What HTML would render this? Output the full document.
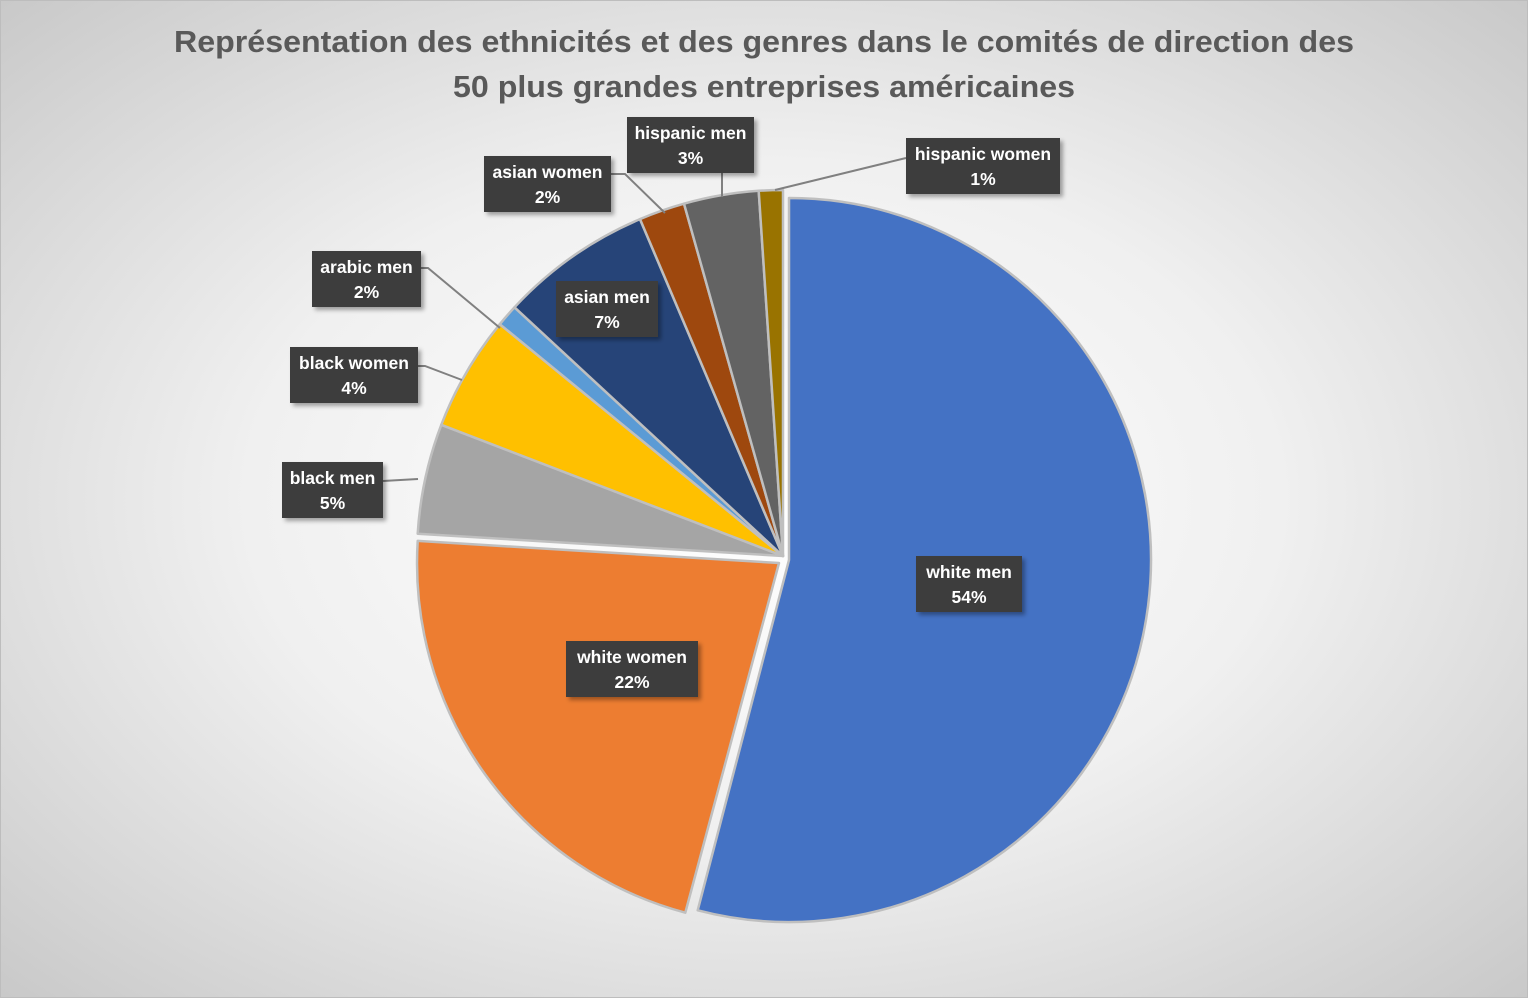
<!DOCTYPE html>
<html><head><meta charset="utf-8"><style>
html,body{margin:0;padding:0;}
body{width:1528px;height:998px;overflow:hidden;}
</style></head><body>
<svg width="1528" height="998" viewBox="0 0 1528 998" xmlns="http://www.w3.org/2000/svg" font-family="Liberation Sans, sans-serif">
<defs>
<radialGradient id="bg" cx="50%" cy="50%" r="75%">
<stop offset="0" stop-color="#ffffff"/><stop offset="0.45" stop-color="#f0f0f0"/><stop offset="1" stop-color="#c4c4c4"/>
</radialGradient>
<filter id="sh" x="-10%" y="-10%" width="130%" height="130%"><feDropShadow dx="3" dy="3" stdDeviation="2" flood-color="#000" flood-opacity="0.35"/></filter>
</defs>
<rect x="0" y="0" width="1528" height="998" fill="url(#bg)" stroke="#bdbdbd" stroke-width="2"/>
<g font-weight="bold" fill="#595959" font-size="31" text-anchor="middle">
<text x="764" y="52" textLength="1180" lengthAdjust="spacingAndGlyphs">Représentation des ethnicités et des genres dans le comités de direction des</text>
<text x="764" y="97" textLength="622" lengthAdjust="spacingAndGlyphs">50 plus grandes entreprises américaines</text>
</g>
<g stroke="#bfbfbf" stroke-width="2.5" stroke-linejoin="round">
<path d="M789,560 L789,198 A362,362 0 1 1 697.7,910.3 Z" fill="#4472c4"/>
<path d="M779,563 L685.3,912.7 A362,362 0 0 1 417.7,540.9 Z" fill="#ed7d31"/>
<path d="M783,556 L417.7,533.7 A366,366 0 0 1 441.3,424.8 Z" fill="#a5a5a5"/>
<path d="M783,556 L441.3,424.8 A366,366 0 0 1 499.8,324.2 Z" fill="#ffc000"/>
<path d="M783,556 L499.8,324.2 A366,366 0 0 1 514.5,307.3 Z" fill="#5b9bd5"/>
<path d="M783,556 L514.5,307.3 A366,366 0 0 1 640.0,219.1 Z" fill="#264478"/>
<path d="M783,556 L640.0,219.1 A366,366 0 0 1 684.0,203.7 Z" fill="#9e480e"/>
<path d="M783,556 L684.0,203.7 A366,366 0 0 1 758.7,190.8 Z" fill="#636363"/>
<path d="M783,556 L758.7,190.8 A366,366 0 0 1 783,190 Z" fill="#997300"/>
</g>
<g stroke="#808080" stroke-width="2" fill="none">
<polyline points="754,146 722,146 722,197"/>
<polyline points="906,158 775,190"/>
<polyline points="611,174 625,174 665,213"/>
<polyline points="421,268 428,268 500,328"/>
<polyline points="418,366 425,366 462,380"/>
<polyline points="383,481 418,479"/>
</g>
<g font-size="17.5" font-weight="bold" text-anchor="middle">
<rect x="627" y="117" width="127" height="56" fill="#3d3d3d" filter="url(#sh)"/>
<text x="690.5" y="139" fill="#fff">hispanic men</text><text x="690.5" y="164" fill="#fff">3%</text>
<rect x="906" y="138" width="154" height="56" fill="#3d3d3d" filter="url(#sh)"/>
<text x="983" y="160" fill="#fff">hispanic women</text><text x="983" y="185" fill="#fff">1%</text>
<rect x="484" y="156" width="127" height="56" fill="#3d3d3d" filter="url(#sh)"/>
<text x="547.5" y="178" fill="#fff">asian women</text><text x="547.5" y="203" fill="#fff">2%</text>
<rect x="312" y="251" width="109" height="56" fill="#3d3d3d" filter="url(#sh)"/>
<text x="366.5" y="273" fill="#fff">arabic men</text><text x="366.5" y="298" fill="#fff">2%</text>
<rect x="290" y="347" width="128" height="56" fill="#3d3d3d" filter="url(#sh)"/>
<text x="354" y="369" fill="#fff">black women</text><text x="354" y="394" fill="#fff">4%</text>
<rect x="282" y="462" width="101" height="56" fill="#3d3d3d" filter="url(#sh)"/>
<text x="332.5" y="484" fill="#fff">black men</text><text x="332.5" y="509" fill="#fff">5%</text>
<rect x="556" y="281" width="102" height="56" fill="#3d3d3d" filter="url(#sh)"/>
<text x="607" y="303" fill="#fff">asian men</text><text x="607" y="328" fill="#fff">7%</text>
<rect x="916" y="556" width="106" height="56" fill="#3d3d3d" filter="url(#sh)"/>
<text x="969" y="578" fill="#fff">white men</text><text x="969" y="603" fill="#fff">54%</text>
<rect x="566" y="641" width="132" height="56" fill="#3d3d3d" filter="url(#sh)"/>
<text x="632" y="663" fill="#fff">white women</text><text x="632" y="688" fill="#fff">22%</text>
</g>
</svg>
</body></html>
